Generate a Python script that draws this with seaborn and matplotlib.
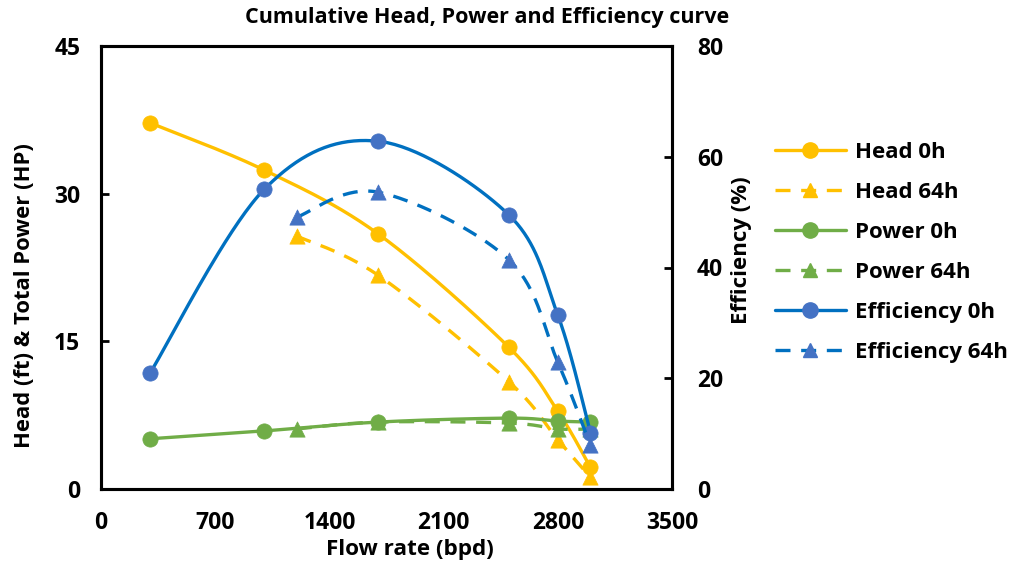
import numpy as np
import pandas as pd
import matplotlib
matplotlib.use("Agg")
import matplotlib.pyplot as plt
from matplotlib.lines import Line2D
import seaborn as sns

# ---- data ----
flow_0h = [300, 1000, 1700, 2500, 2800, 3000]
flow_64h = [1200, 1700, 2500, 2800, 3000]
head_0h = [37.2, 32.4, 25.9, 14.4, 7.9, 2.2]
head_64h = [25.7, 21.7, 10.9, 5.0, 1.2]
power_0h = [5.1, 5.9, 6.8, 7.2, 6.9, 6.8]
power_64h = [6.1, 6.8, 6.7, 6.1, 6.1]
eff_0h = [20.9, 54.1, 62.8, 49.5, 31.4, 10.2]
eff_64h = [49.1, 53.6, 41.4, 22.9, 7.9]

x_ticks = [0, 700, 1400, 2100, 2800, 3500]
left_ticks = [0, 15, 30, 45]
right_ticks = [0, 20, 40, 60, 80]

sns.set_theme(style="white")
plt.rcParams['font.family'] = ['Open Sans', 'DejaVu Sans']
plt.rcParams['text.color'] = 'black'

W, H = 1011, 569
fig = plt.figure(figsize=(W / 100, H / 100), dpi=100)
ax = fig.add_axes([101 / W, 1 - 489 / H, 571 / W, 443 / H])
ax2 = ax.twinx()

X_RANGE, L_RANGE, R_RANGE = 3500, 45, 80
AX_W, AX_H = 571.0, 443.0


def smooth(xs, ys, yrange, n=40):
    """Excel-like Bezier smoothing computed in pixel-like space."""
    px = np.asarray(xs, float) * AX_W / X_RANGE
    py = np.asarray(ys, float) * AX_H / yrange
    P = np.column_stack([px, py])
    out = []
    m = len(P)
    for i in range(m - 1):
        p0 = P[i - 1] if i > 0 else P[i]
        p1 = P[i]
        p2 = P[i + 1]
        p3 = P[i + 2] if i + 2 < m else P[i + 1]
        c1 = p1 + (p2 - p0) / 6.0
        c2 = p2 - (p3 - p1) / 6.0
        t = np.linspace(0, 1, n)[:, None]
        seg = ((1 - t) ** 3) * p1 + 3 * ((1 - t) ** 2) * t * c1 + 3 * (1 - t) * t ** 2 * c2 + t ** 3 * p2
        out.append(seg if i == 0 else seg[1:])
    S = np.vstack(out)
    return S[:, 0] * X_RANGE / AX_W, S[:, 1] * yrange / AX_H


HEAD = "#FFC000"
POWER = "#70AD47"
EFFL = "#0070C0"
EFFM = "#4472C4"
LW = 2.4
MS = 11
DASH = (4.5, 3.2)

series = [
    (ax, flow_0h, head_0h, L_RANGE, HEAD, HEAD, "-", "o", "Head 0h"),
    (ax, flow_64h, head_64h, L_RANGE, HEAD, HEAD, "--", "^", "Head 64h"),
    (ax, flow_0h, power_0h, L_RANGE, POWER, POWER, "-", "o", "Power 0h"),
    (ax, flow_64h, power_64h, L_RANGE, POWER, POWER, "--", "^", "Power 64h"),
    (ax2, flow_0h, eff_0h, R_RANGE, EFFL, EFFM, "-", "o", "Efficiency 0h"),
    (ax2, flow_64h, eff_64h, R_RANGE, EFFL, EFFM, "--", "^", "Efficiency 64h"),
]

handles = []
for z, (a, xs, ys, yr, lc, mc, ls, mk, lab) in enumerate(series):
    sx, sy = smooth(xs, ys, yr)
    df = pd.DataFrame({"x": sx, "y": sy})
    sns.lineplot(data=df, x="x", y="y", ax=a, sort=False, color=lc, lw=LW,
                 estimator=None, zorder=3 + z)
    line = a.get_lines()[-1]
    if ls == "--":
        line.set_dashes(DASH)
    dm = pd.DataFrame({"x": xs, "y": ys})
    sns.scatterplot(data=dm, x="x", y="y", ax=a, color=mc, marker=mk, s=MS ** 2,
                    edgecolor=mc, linewidth=0.5, zorder=3.5 + z)
    h = Line2D([0], [0], color=lc, lw=LW, ls=ls, marker=mk, ms=MS if mk == "o" else 10,
               markerfacecolor=mc, markeredgecolor=mc)
    if ls == "--":
        h.set_dashes(DASH)
    handles.append((h, lab))

for a in (ax, ax2):
    a.set_xlim(0, 3500)
    a.set_xlabel("")
    a.set_ylabel("")
ax.set_ylim(0, 45)
ax2.set_ylim(0, 80)
ax.set_xticks(x_ticks)
ax.set_yticks(left_ticks)
ax2.set_yticks(right_ticks)

FS = 16.5
tick_font = dict(fontsize=FS, fontweight="bold", color="black")
ax.set_xticklabels([str(t) for t in x_ticks], **tick_font)
ax.set_yticklabels([str(t) for t in left_ticks], **tick_font)
ax2.set_yticklabels([str(t) for t in right_ticks], **tick_font)

for a in (ax, ax2):
    for s in a.spines.values():
        s.set_linewidth(2.2)
        s.set_color("black")
ax.tick_params(axis="both", direction="in", length=6, width=2, colors="black")
ax.tick_params(axis="y", pad=15)
ax.tick_params(axis="x", pad=16)
ax2.tick_params(axis="y", direction="in", length=6, width=2, colors="black", pad=18)

# axis titles placed at the reference positions
fig.text(410 / W, 1 - 549 / H, "Flow rate (bpd)", ha="center", va="center",
         fontsize=16.2, fontweight="bold", color="black")
fig.text(25 / W, 1 - 296 / H, "Head (ft) & Total Power (HP)", ha="center", va="center",
         rotation=90, fontsize=15.8, fontweight="bold", color="black")
fig.text(741 / W, 1 - 250 / H, "Efficiency (%)", ha="center", va="center",
         rotation=90, fontsize=16, fontweight="bold", color="black")
fig.text(487 / W, 1 - 17 / H, "Cumulative Head, Power and Efficiency curve",
         ha="center", va="center", fontsize=15.5, fontweight="bold", color="black")

ax.set_zorder(ax2.get_zorder() - 1)
ax.patch.set_visible(False)

leg = fig.legend([h for h, _ in handles], [l for _, l in handles], loc="upper left",
                 bbox_to_anchor=(768 / W, 1 - 135 / H), frameon=False, handlelength=3.2,
                 labelspacing=0.86, prop=dict(size=16, weight="bold"), handletextpad=0.4,
                 borderaxespad=0, borderpad=0.3)
for t in leg.get_texts():
    t.set_color("black")

fig.savefig("out.png", dpi=100)
